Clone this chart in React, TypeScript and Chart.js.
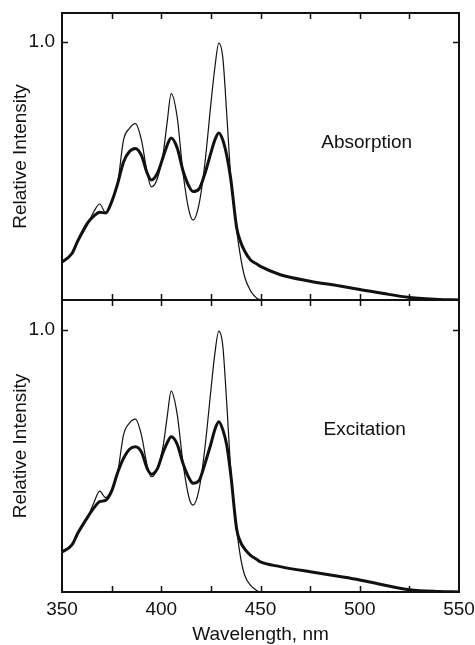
import React, { useEffect, useRef } from "react";
import { Chart, registerables } from "chart.js";

Chart.register(...registerables);

// Wavelength grid (nm)
const waveNm = [350, 355, 358, 363, 366, 369, 372, 375, 378, 381, 384, 387, 390, 393, 395, 398, 401, 403, 405, 408, 411, 414, 416, 419, 422, 425, 427, 429, 431, 433, 435, 438, 440, 442, 445, 448, 450, 460, 475, 490, 500, 512, 525, 540, 550];

// Top panel: Absorption
const absThin = [0.147, 0.18, 0.225, 0.295, 0.342, 0.372, 0.338, 0.38, 0.45, 0.62, 0.665, 0.683, 0.62, 0.49, 0.438, 0.47, 0.57, 0.69, 0.80, 0.71, 0.49, 0.345, 0.31, 0.37, 0.53, 0.76, 0.9, 0.995, 0.94, 0.72, 0.48, 0.27, 0.165, 0.09, 0.035, 0.008, 0, null, null, null, null, null, null, null, null];
const absThick = [0.147, 0.18, 0.23, 0.30, 0.325, 0.34, 0.337, 0.38, 0.45, 0.535, 0.575, 0.587, 0.56, 0.49, 0.465, 0.49, 0.555, 0.60, 0.628, 0.59, 0.50, 0.44, 0.42, 0.43, 0.49, 0.57, 0.62, 0.647, 0.62, 0.56, 0.47, 0.28, 0.225, 0.19, 0.155, 0.14, 0.13, 0.098, 0.073, 0.054, 0.041, 0.025, 0.01, 0.002, 0];

// Bottom panel: Excitation
const excThin = [0.153, 0.18, 0.225, 0.287, 0.34, 0.385, 0.36, 0.39, 0.455, 0.60, 0.645, 0.66, 0.60, 0.48, 0.44, 0.47, 0.56, 0.67, 0.767, 0.68, 0.49, 0.36, 0.332, 0.39, 0.55, 0.77, 0.91, 0.996, 0.94, 0.72, 0.47, 0.24, 0.13, 0.065, 0.025, 0.006, 0, null, null, null, null, null, null, null, null];
const excThick = [0.153, 0.18, 0.225, 0.287, 0.32, 0.345, 0.35, 0.385, 0.455, 0.51, 0.545, 0.555, 0.535, 0.47, 0.45, 0.47, 0.535, 0.57, 0.593, 0.565, 0.49, 0.435, 0.415, 0.425, 0.49, 0.565, 0.62, 0.65, 0.62, 0.56, 0.45, 0.24, 0.19, 0.165, 0.14, 0.125, 0.115, 0.097, 0.077, 0.059, 0.046, 0.027, 0.009, 0.002, 0];

const xMin = 350;
const xMax = 550;
const xLabelStep = 50;
const xTickMarks = [375, 400, 425, 450, 475, 500, 525];
const yTickValue = 1.0;
const yTickLabel = "1.0";
const yAxisTitle = "Relative Intensity";
const xAxisTitle = "Wavelength, nm";
const panelLabels = ["Absorption", "Excitation"];
const panelLabelPos = [
  { x: 503.5, y: 0.61 },
  { x: 502.5, y: 0.62 },
];

const FONT = '"Liberation Sans", Arial, Helvetica, sans-serif';
const INK = "#111";

function toPoints(vals: (number | null)[]) {
  const pts: { x: number; y: number }[] = [];
  waveNm.forEach((x, i) => {
    const v = vals[i];
    if (v !== null && v !== undefined) pts.push({ x, y: v });
  });
  return pts;
}

function framePlugin(label: string, pos: { x: number; y: number }) {
  return {
    id: "frameAndLabels",
    afterDatasetsDraw(chart: any) {
      const { ctx, chartArea: a, scales } = chart;
      ctx.save();
      ctx.strokeStyle = INK;
      ctx.lineWidth = 2;
      ctx.strokeRect(a.left, a.top, a.right - a.left, a.bottom - a.top);
      ctx.lineWidth = 1.5;
      ctx.beginPath();
      for (const v of xTickMarks) {
        const px = Math.round(scales.x.getPixelForValue(v)) + 0.5;
        ctx.moveTo(px, a.bottom);
        ctx.lineTo(px, a.bottom - 6);
        ctx.moveTo(px, a.top);
        ctx.lineTo(px, a.top + 6);
      }
      const py = Math.round(scales.y.getPixelForValue(yTickValue)) + 0.5;
      ctx.moveTo(a.left, py);
      ctx.lineTo(a.left + 6, py);
      ctx.moveTo(a.right, py);
      ctx.lineTo(a.right - 6, py);
      ctx.stroke();
      ctx.font = `19px ${FONT}`;
      ctx.fillStyle = INK;
      ctx.textAlign = "center";
      ctx.textBaseline = "middle";
      ctx.fillText(label, scales.x.getPixelForValue(pos.x), scales.y.getPixelForValue(pos.y));
      ctx.restore();
    },
  };
}

function makeConfig(
  thin: (number | null)[],
  thick: (number | null)[],
  yMax: number,
  showX: boolean,
  padding: any,
  label: string,
  pos: { x: number; y: number }
): any {
  return {
    type: "line",
    data: {
      datasets: [
        {
          data: toPoints(thin),
          borderColor: INK,
          borderWidth: 1.2,
          pointRadius: 0,
          cubicInterpolationMode: "monotone",
          fill: false,
        },
        {
          data: toPoints(thick),
          borderColor: INK,
          borderWidth: 3,
          pointRadius: 0,
          cubicInterpolationMode: "monotone",
          fill: false,
        },
      ],
    },
    options: {
      responsive: false,
      animation: false,
      devicePixelRatio: 1,
      layout: { padding },
      plugins: { legend: { display: false }, tooltip: { enabled: false } },
      events: [],
      scales: {
        x: {
          type: "linear",
          min: xMin,
          max: xMax,
          display: showX,
          grid: { display: false, drawTicks: false },
          border: { display: false },
          ticks: {
            stepSize: xLabelStep,
            autoSkip: false,
            maxRotation: 0,
            padding: 6,
            color: INK,
            font: { family: FONT, size: 19 },
          },
          title: {
            display: true,
            text: xAxisTitle,
            color: INK,
            font: { family: FONT, size: 19 },
            padding: { top: 0, bottom: 0 },
          },
          afterFit: (s: any) => {
            if (showX) {
              s.height = 54;
              s.paddingLeft = 0;
              s.paddingRight = 0;
            }
          },
        },
        y: {
          type: "linear",
          min: 0,
          max: yMax,
          grid: { display: false, drawTicks: false },
          border: { display: false },
          afterBuildTicks: (s: any) => {
            s.ticks = [{ value: yTickValue }];
          },
          ticks: {
            padding: 7,
            color: INK,
            font: { family: FONT, size: 19 },
            callback: () => yTickLabel,
          },
          title: {
            display: true,
            text: yAxisTitle,
            color: INK,
            font: { family: FONT, size: 19 },
            padding: { top: 9, bottom: 0 },
          },
          afterFit: (s: any) => {
            s.width = 62;
            s.paddingTop = 0;
            s.paddingBottom = 0;
          },
        },
      },
    },
    plugins: [framePlugin(label, pos)],
  };
}

export default function App() {
  const topRef = useRef<HTMLCanvasElement>(null);
  const botRef = useRef<HTMLCanvasElement>(null);

  useEffect(() => {
    const c1 = new Chart(
      topRef.current as HTMLCanvasElement,
      makeConfig(absThin, absThick, 1.112, false, { left: 0, right: 16, top: 13, bottom: 10 }, panelLabels[0], panelLabelPos[0])
    );
    const c2 = new Chart(
      botRef.current as HTMLCanvasElement,
      makeConfig(excThin, excThick, 1.115, true, { left: 0, right: 16, top: 10, bottom: 0 }, panelLabels[1], panelLabelPos[1])
    );
    return () => {
      c1.destroy();
      c2.destroy();
    };
  }, []);

  return (
    <div style={{ position: "absolute", left: 0, top: 0, width: 475, height: 645, background: "#fff" }}>
      <canvas
        ref={botRef}
        width={475}
        height={356}
        style={{ position: "absolute", left: 0, top: 290, width: 475, height: 356, display: "block" }}
      />
      <canvas
        ref={topRef}
        width={475}
        height={310}
        style={{ position: "absolute", left: 0, top: 0, width: 475, height: 310, display: "block" }}
      />
    </div>
  );
}
